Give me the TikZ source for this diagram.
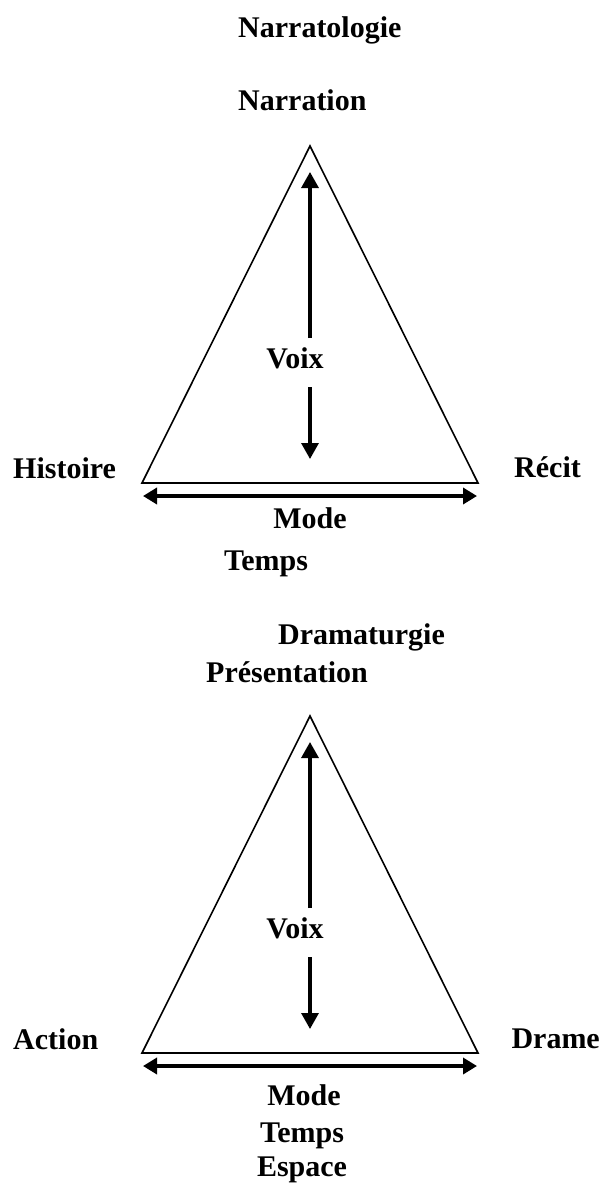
\documentclass[tikz,border=0pt]{standalone}
\usepackage{fontspec}
\setmainfont{Liberation Serif}
\usetikzlibrary{arrows.meta}
\tikzset{
  lbl/.style={inner sep=0pt, font=\bfseries\fontsize{30}{35}\selectfont},
  tri/.style={line width=1.6pt, line join=miter},
  varrow/.style={line width=3.2pt, -{Triangle[length=16pt,width=17pt]}},
  harrow/.style={line width=3.6pt, {Triangle[length=14pt,width=16pt]}-{Triangle[length=14pt,width=16pt]}}
}
\begin{document}
\begin{tikzpicture}[x=1pt,y={(0pt,-1pt)}]
\useasboundingbox (0,0) rectangle (606,1183);
% ---------- Narratologie ----------
\node[lbl, anchor=base west] (title1) at (238,37) {Narratologie};
\node[lbl, anchor=base west] (top1) at (238,110) {Narration};
\coordinate (a1) at (310,146);
\coordinate (l1) at (142,483);
\coordinate (r1) at (478,483);
\draw[tri] (a1) -- (l1) -- (r1) -- cycle;
\node[lbl, anchor=base] (voix1) at (295,368) {Voix};
\coordinate (u1s) at (310,338);
\coordinate (u1t) at (310,172);
\coordinate (d1s) at (310,387);
\coordinate (d1t) at (310,459);
\draw[varrow] (u1s) -- (u1t);
\draw[varrow] (d1s) -- (d1t);
\node[lbl, anchor=base west] (left1) at (13,478) {Histoire};
\node[lbl, anchor=base west] (right1) at (514,477) {Récit};
\coordinate (h1l) at (143,496);
\coordinate (h1r) at (477,496);
\draw[harrow] (h1l) -- (h1r);
\node[lbl, anchor=base] (mode1) at (310,528) {Mode};
\node[lbl, anchor=base] (temps1) at (266,570) {Temps};
% ---------- Dramaturgie ----------
\node[lbl, anchor=base west] (title2) at (278,644) {Dramaturgie};
\node[lbl, anchor=base west] (top2) at (206,682) {Présentation};
\coordinate (a2) at (310,716);
\coordinate (l2) at (142,1053);
\coordinate (r2) at (478,1053);
\draw[tri] (a2) -- (l2) -- (r2) -- cycle;
\node[lbl, anchor=base] (voix2) at (295,938) {Voix};
\coordinate (u2s) at (310,908);
\coordinate (u2t) at (310,742);
\coordinate (d2s) at (310,957);
\coordinate (d2t) at (310,1029);
\draw[varrow] (u2s) -- (u2t);
\draw[varrow] (d2s) -- (d2t);
\node[lbl, anchor=base west] (left2) at (13,1049) {Action};
\node[lbl, anchor=base east] (right2) at (600,1048) {Drame};
\coordinate (h2l) at (143,1066);
\coordinate (h2r) at (477,1066);
\draw[harrow] (h2l) -- (h2r);
\node[lbl, anchor=base] (mode2) at (304,1105) {Mode};
\node[lbl, anchor=base] (temps2) at (302,1142) {Temps};
\node[lbl, anchor=base] (espace2) at (302,1176) {Espace};
\end{tikzpicture}
\end{document}
